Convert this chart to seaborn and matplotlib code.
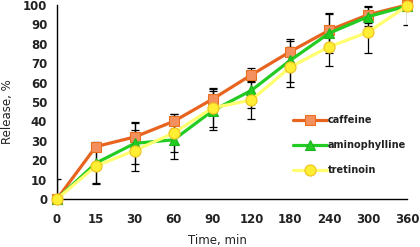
import matplotlib
matplotlib.use("Agg")
import matplotlib.pyplot as plt
import seaborn as sns
import numpy as np
import pandas as pd

times = ["0", "15", "30", "60", "90", "120", "180", "240", "300", "360"]
caffeine = [0, 27, 32, 40, 51.5, 64, 76, 87, 95, 100]
aminophylline = [0, 18.5, 28.7, 30.5, 45.5, 56, 71.5, 85.5, 94, 99.5]
tretinoin = [0, 17, 25, 34, 47, 51, 68, 78.5, 86, 99.5]
caffeine_err = [0, 1, 7.5, 4, 5, 3.5, 5.5, 9, 4.5, 1]
aminophylline_err = [0, 11, 10.7, 10, 10, 9, 11, 10, 5, 1]
tretinoin_err = [10.5, 9, 10.4, 10, 10, 10, 10.5, 10, 10.5, 10]

sns.set_theme(style="white")
plt.rcParams['font.family'] = ['DejaVu Sans']

fig = plt.figure(figsize=(4.2, 2.47), dpi=100)
ax = fig.add_axes([57/420, (247-199)/247, 350/420, 194/247])

series = [
    ("caffeine", caffeine, caffeine_err, "#E8641E", "s", "#F4905E", "#E8701E", 7.0),
    ("aminophylline", aminophylline, aminophylline_err, "#22CC22", "^", "#22CC22", "#1DB41D", 7.0),
    ("tretinoin", tretinoin, tretinoin_err, "#FFFF70", "o", "#FFEE33", "#F0C020", 8.0),
]

pos = np.arange(len(times))
for name, vals, err, lc, mk, mfc, mec, ms in series:
    ax.errorbar(pos, vals, yerr=err, fmt="none", ecolor="black",
                elinewidth=0.9, capsize=3, capthick=0.9, zorder=2)
for name, vals, err, lc, mk, mfc, mec, ms in series:
    df = pd.DataFrame({"pos": pos, "val": vals})
    sns.lineplot(data=df, x="pos", y="val", ax=ax, color=lc, lw=2.3,
                 marker=mk, markersize=ms, markerfacecolor=mfc,
                 markeredgecolor=mec, markeredgewidth=0.8, label=name,
                 zorder=3, clip_on=False)

ax.set_xlim(0, len(times) - 1)
ax.set_ylim(0, 100)
ax.set_xticks(pos)
ax.set_xticklabels(times)
ax.set_yticks(np.arange(0, 101, 10))
for s in ["top", "right"]:
    ax.spines[s].set_visible(False)
for s in ["left", "bottom"]:
    ax.spines[s].set_color("black")
    ax.spines[s].set_linewidth(1.0)
ax.tick_params(axis="both", which="major", direction="out", length=4,
               width=1.0, color="black", labelsize=8.5, labelcolor="#222222")
ax.tick_params(axis="x", pad=6)
ax.tick_params(axis="y", pad=3)
for lab in ax.get_xticklabels() + ax.get_yticklabels():
    lab.set_fontweight("bold")
ax.set_xlabel("Time, min", fontsize=8.5, color="#222222")
ax.set_ylabel("Release, %", fontsize=8.5, color="#222222")
ax.xaxis.set_label_coords((217-57)/350, -(240-199)/194)
ax.yaxis.set_label_coords(-(57-8)/350, (199-112)/194)
ax.xaxis.label.set_va("center")
ax.yaxis.label.set_va("center")

leg = ax.legend(loc="upper left", bbox_to_anchor=((293-57)/350, (199-115)/194),
                frameon=False, fontsize=7, handlelength=3.5, handletextpad=0.1,
                labelspacing=1.55, borderaxespad=0, borderpad=0)
for t in leg.get_texts():
    t.set_fontweight("bold")
    t.set_color("#222222")

fig.savefig("out.png", dpi=100)
